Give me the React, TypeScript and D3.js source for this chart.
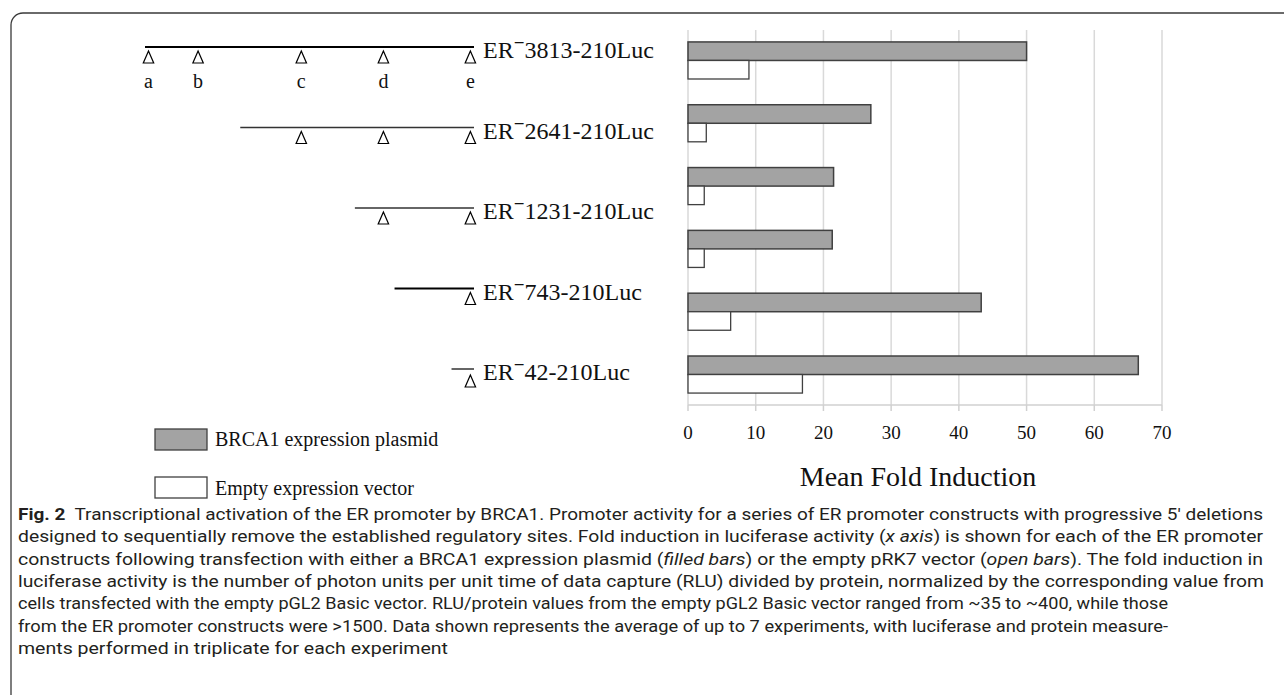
import React from "react";
import * as d3 from "d3";

// ---------- data ----------
const groups = ["G1", "G2", "G3", "G4", "G5", "G6"];
const brcaValues = [50, 27, 21.5, 21.3, 43.3, 66.5];
const emptyValues = [9, 2.7, 2.4, 2.4, 6.3, 16.9];
const xTicks = [0, 10, 20, 30, 40, 50, 60, 70];

const constructNames = ["3813", "2641", "1231", "743", "42"];
const constructStarts = [-3813, -2641, -1231, -743, -42];
const constructEnd = 210;
const siteNames = ["a", "b", "c", "d", "e"];
const sitePositions = [-3770, -3160, -1890, -880, 190];

const legendLabels = ["BRCA1 expression plasmid", "Empty expression vector"];
const axisTitle = "Mean Fold Induction";

type Seg = { t: string; b?: boolean; i?: boolean };
const captionLines: Seg[][] = [
  [
    { t: "Fig. 2", b: true },
    { t: "\u00a0 Transcriptional activation of the ER promoter by BRCA1. Promoter activity for a series of ER promoter constructs with progressive 5\u2032 deletions" },
  ],
  [
    { t: "designed to sequentially remove the established regulatory sites. Fold induction in luciferase activity (" },
    { t: "x axis", i: true },
    { t: ") is shown for each of the ER promoter" },
  ],
  [
    { t: "constructs following transfection with either a BRCA1 expression plasmid (" },
    { t: "filled bars", i: true },
    { t: ") or the empty pRK7 vector (" },
    { t: "open bars", i: true },
    { t: "). The fold induction in" },
  ],
  [{ t: "luciferase activity is the number of photon units per unit time of data capture (RLU) divided by protein, normalized by the corresponding value from" }],
  [{ t: "cells transfected with the empty pGL2 Basic vector. RLU/protein values from the empty pGL2 Basic vector ranged from ~35 to ~400, while those" }],
  [{ t: "from the ER promoter constructs were >1500. Data shown represents the average of up to 7 experiments, with luciferase and protein measure-" }],
  [{ t: "ments performed in triplicate for each experiment" }],
];
const captionWidths = [1245, 1245, 1245, 1246, 1150, 1150, 430];

// ---------- layout ----------
const W = 1284;
const H = 695;
const serif = "'Liberation Serif', 'Times New Roman', serif";
const sans = "Roboto, 'Noto Sans', sans-serif";

export default function App() {
  const x = d3.scaleLinear().domain([0, 70]).range([688, 1162]);
  const plotTop = 30;
  const plotBottom = 405;
  const y = d3
    .scaleBand<string>()
    .domain(groups)
    .range([plotTop, plotBottom])
    .paddingInner(0.41)
    .paddingOuter(0.19);
  const sub = d3
    .scaleBand<string>()
    .domain(["brca", "empty"])
    .range([0, y.bandwidth()]);

  const bp = d3.scaleLinear().domain([-3813, constructEnd]).range([145, 472]);
  const rowY = d3
    .scalePoint<string>()
    .domain(constructNames)
    .range([50, 372]);

  const tri = (cx: number, top: number) =>
    `M${cx},${top} L${cx + 5.2},${top + 12} L${cx - 5.2},${top + 12} Z`;

  return (
    <svg
      width={W}
      height={H}
      style={{ position: "absolute", left: 0, top: 0, background: "#fff" }}
    >
      <rect x={0} y={0} width={W} height={H} fill="#fff" />
      {/* frame */}
      <path
        d={`M11,${H + 2} V25 A12,12 0 0 1 23,13 H${W + 2}`}
        fill="none"
        stroke="#3a3a3a"
        strokeWidth={1.3}
      />

      {/* gridlines */}
      {xTicks.map((t) => (
        <line
          key={"g" + t}
          x1={x(t)}
          x2={x(t)}
          y1={plotTop}
          y2={plotBottom}
          stroke="#d9d9d9"
          strokeWidth={1.5}
        />
      ))}
      {/* axis line & ticks */}
      <line
        x1={x(0)}
        x2={x(70)}
        y1={plotBottom}
        y2={plotBottom}
        stroke="#d0d0d0"
        strokeWidth={1.5}
      />
      {xTicks.map((t) => (
        <line
          key={"t" + t}
          x1={x(t)}
          x2={x(t)}
          y1={plotBottom}
          y2={plotBottom + 6}
          stroke="#d0d0d0"
          strokeWidth={1.5}
        />
      ))}
      {xTicks.map((t) => (
        <text
          key={"l" + t}
          x={x(t)}
          y={439}
          textAnchor="middle"
          fontFamily={serif}
          fontSize={19}
          fill="#111"
        >
          {t}
        </text>
      ))}
      <text
        x={918}
        y={486}
        textAnchor="middle"
        fontFamily={serif}
        fontSize={28}
        fill="#111"
      >
        {axisTitle}
      </text>

      {/* bars */}
      {groups.map((g, i) => (
        <g key={g}>
          <rect
            x={x(0)}
            y={(y(g) as number) + (sub("brca") as number)}
            width={x(brcaValues[i]) - x(0)}
            height={sub.bandwidth()}
            fill="#a3a3a3"
            stroke="#404040"
            strokeWidth={1.5}
          />
          <rect
            x={x(0)}
            y={(y(g) as number) + (sub("empty") as number)}
            width={x(emptyValues[i]) - x(0)}
            height={sub.bandwidth()}
            fill="#fff"
            stroke="#404040"
            strokeWidth={1.3}
          />
        </g>
      ))}

      {/* constructs */}
      {constructNames.map((n, i) => {
        const ry = rowY(n) as number;
        const start = constructStarts[i];
        const thick = i === 0 || i === 3;
        return (
          <g key={n}>
            <line
              x1={bp(start)}
              x2={bp(constructEnd) + 2}
              y1={ry - 3}
              y2={ry - 3}
              stroke={thick ? "#000" : "#333"}
              strokeWidth={thick ? 2.2 : 1.5}
            />
            {sitePositions.map((s, j) =>
              s >= start ? (
                <path
                  key={j}
                  d={tri(bp(s), ry + (i === 4 ? 3 : 1))}
                  fill="#fff"
                  stroke="#000"
                  strokeWidth={1.2}
                />
              ) : null
            )}
            <text
              x={bp(constructEnd) + 11}
              y={ry + 8}
              fontFamily={serif}
              fontSize={24}
              fill="#111"
            >
              ER
              <tspan fontWeight="bold" fontSize={19} dy={-9}>
                {"\u2212"}
              </tspan>
              <tspan dy={9}>{n}-210Luc</tspan>
            </text>
          </g>
        );
      })}
      {siteNames.map((s, j) => (
        <text
          key={s}
          x={bp(sitePositions[j])}
          y={(rowY(constructNames[0]) as number) + 38}
          textAnchor="middle"
          fontFamily={serif}
          fontSize={20}
          fill="#111"
        >
          {s}
        </text>
      ))}

      {/* legend */}
      {legendLabels.map((l, k) => (
        <g key={l}>
          <rect
            x={155}
            y={429 + k * 48}
            width={52}
            height={21}
            fill={k === 0 ? "#a3a3a3" : "#fff"}
            stroke="#404040"
            strokeWidth={1.3}
          />
          <text
            x={215}
            y={446 + k * 49}
            fontFamily={serif}
            fontSize={20}
            fill="#111"
          >
            {l}
          </text>
        </g>
      ))}

      {/* caption */}
      {captionLines.map((segs, li) => (
        <text
          key={li}
          x={18}
          y={520 + li * 22.3}
          fontFamily={sans}
          fontSize={17}
          fill="#231f20"
          textLength={captionWidths[li]}
          lengthAdjust="spacingAndGlyphs"
        >
          {segs.map((s, si) => (
            <tspan
              key={si}
              fontWeight={s.b ? "bold" : "normal"}
              fontStyle={s.i ? "italic" : "normal"}
            >
              {s.t}
            </tspan>
          ))}
        </text>
      ))}
    </svg>
  );
}
